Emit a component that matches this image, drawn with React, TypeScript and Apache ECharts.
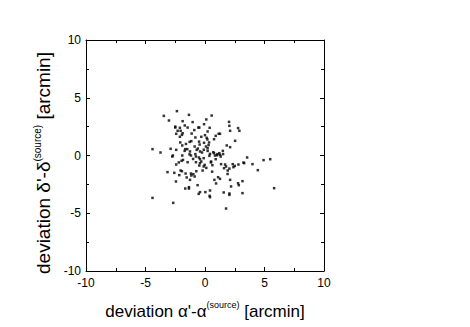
import React, { useEffect, useRef } from "react";
import * as echarts from "echarts";

const xTicks = [-10, -5, 0, 5, 10];
const yTicks = [-10, -5, 0, 5, 10];

const devAlpha = [
  -2.36, -3.46, -3.03, -1.35, 0.56, 0.11, -1.88, -1.04, 2.02, 2.05, -2.5, -2.5, -2.11, -1.46, -0.56, -0.48,
  -0.08, 0.39, 2.11, 2.78, 2.89, -2.3, -2.05, -1.88, -1.94, -2.42, -1.12, 0.22, -0.81, -0.31, 0.0, 0.14,
  0.2, 0.76, 1.15, 1.26, -2.11, 2.53, -1.29, -1.15, -2.08, -0.08, 0.34, -2.89, -4.41, -3.74, -2.42, -1.66,
  -1.49, -1.71, -1.26, -0.7, -0.42, -0.25, 0.22, 0.42, 0.7, 0.76, 1.04, 1.26, 1.32, 1.52, 1.83, 2.11,
  -0.87, -1.91, -0.45, 0.08, 0.22, -2.75, -1.91, -1.18, -0.81, -0.76, -0.51, -0.42, -0.11, 0.37, 0.84, 1.0,
  3.54, 4.92, 5.48, 5.81, 4.44, 3.99, 3.29, 3.23, 2.81, 2.33, 2.39, 2.05, 1.91, 1.77, 1.6, 1.69,
  1.35, 0.9, 0.51, -0.03, -0.11, -0.31, -0.42, -0.48, -0.76, -1.46, -1.85, -1.97, -2.42, -3.15, -2.58, -2.05,
  -1.94, -2.16, -1.63, -1.18, -0.98, -1.15, -0.87, -1.54, -1.26, -2.44, -0.73, 0.11, 0.62, 1.1, 0.79, 0.93,
  1.26, 2.11, 2.78, 2.84, 3.15, -1.66, -1.35, -1.35, -0.62, -0.42, -0.53, 0.03, 0.42, 0.39, 0.42, 1.57,
  2.05, 2.05, 2.19, 3.15, -4.41, -2.67, 1.77, -1.6, -0.6, 0.5, -1.0, 1.5, -0.2, 0.9, -1.7, 0.3,
  -2.2, -0.9, 1.9, -1.3, 0.6, -0.1, 2.5, -2.7, 1.2, -0.5
];

const devDelta = [
  3.84, 3.43, 3.03, 3.52, 3.46, 3.12, 2.97, 2.89, 2.91, 2.57, 2.5, 2.42, 2.4, 2.42, 2.42, 2.42,
  2.71, 2.4, 2.14, 2.37, 2.14, 2.14, 2.14, 1.93, 1.79, 1.88, 1.9, 2.08, 1.56, 1.62, 1.76, 1.53,
  1.39, 1.41, 1.88, 1.88, 1.62, 1.27, 1.18, 1.24, 1.13, 1.1, 1.13, 0.58, 0.55, 0.26, 0.49, 0.55,
  0.55, 0.4, 0.35, 0.49, 0.35, 0.26, 0.4, 0.14, 0.29, 0.2, 0.12, 0.06, -0.09, 0.12, 0.87, 0.72,
  0.78, 0.87, 0.95, 0.78, 0.63, -0.09, 0.0, 0.0, 0.12, -0.09, -0.17, -0.32, -0.23, -0.03, 0.0, 0.02,
  -0.17, -0.4, -0.32, -2.83, -1.27, -0.75, -0.66, -0.61, -0.78, -0.75, -1.01, -1.13, -1.3, -0.95, -1.1, -0.78,
  -0.75, -0.32, -0.52, -0.81, -0.95, -0.52, -0.66, -0.87, -0.58, -0.58, -0.38, -0.46, -0.78, -1.44, -1.5, -1.3,
  -1.36, -1.7, -1.56, -1.56, -1.62, -1.73, -1.82, -1.9, -2.11, -2.25, -1.36, -1.07, -0.84, -1.88, -2.11, -2.42,
  -2.02, -2.11, -2.4, -2.57, -2.22, -2.86, -2.86, -2.74, -2.57, -3.17, -3.32, -3.17, -3.03, -3.49, -3.61, -3.2,
  -3.29, -3.41, -2.68, -3.26, -3.67, -4.1, -4.59, 1.0, 0.6, -0.6, -0.3, 0.4, -1.3, 1.7, 2.6, 0.9,
  -0.6, 2.2, -1.6, 0.1, -1.4, 0.5, -0.9, 0.0, 0.2, 1.2
];

const FONT = "'Liberation Sans', Arial, sans-serif";

export default function App() {
  const ref = useRef<HTMLDivElement>(null);
  useEffect(() => {
    if (!ref.current) return;
    const chart = echarts.init(ref.current, undefined, { renderer: "svg" });
    const data = devAlpha.map((x, i) => [x, devDelta[i]]);
    const axisCommon = {
      type: "value" as const,
      min: -10,
      max: 10,
      interval: 5,
      axisLine: { show: true, onZero: false, lineStyle: { color: "#000", width: 1 } },
      axisTick: { show: true, inside: true, length: 4, lineStyle: { color: "#000" } },
      minorTick: { show: true, splitNumber: 2, length: 3, lineStyle: { color: "#000" } },
      splitLine: { show: false },
      minorSplitLine: { show: false },
    };
    const labelStyle = {
      color: "#000",
      fontSize: 12,
      fontFamily: FONT,
    };
    const xRich = {
      a: { fontSize: 17, fontFamily: FONT, color: "#000", lineHeight: 20, verticalAlign: "bottom" as const },
      s: { fontSize: 9, fontFamily: FONT, color: "#000", lineHeight: 20, verticalAlign: "top" as const },
    };
    const yRich = {
      a: { fontSize: 19, fontFamily: FONT, color: "#000", lineHeight: 20, verticalAlign: "bottom" as const },
      s: { fontSize: 10, fontFamily: FONT, color: "#000", lineHeight: 20, verticalAlign: "top" as const },
    };
    chart.setOption({
      animation: false,
      backgroundColor: "#fff",
      grid: { left: 86, right: 146, top: 40, bottom: 56, containLabel: false },
      xAxis: [
        {
          ...axisCommon,
          position: "bottom",
          axisLabel: {
            ...labelStyle,
            margin: 6,
            formatter: (v: number) => (xTicks.includes(v) ? String(v) : ""),
          },
          name: "{a|deviation α'-α}{s|(source)}{a| [arcmin]}",
          nameLocation: "middle",
          nameGap: 29,
          nameTextStyle: { rich: xRich },
        },
        {
          ...axisCommon,
          position: "top",
          axisLabel: { show: false },
        },
      ],
      yAxis: [
        {
          ...axisCommon,
          position: "left",
          axisLabel: {
            ...labelStyle,
            margin: 5,
            formatter: (v: number) => (yTicks.includes(v) ? String(v) : ""),
          },
          name: "{a|deviation δ'-δ}{s|(source)}{a| [arcmin]}",
          nameLocation: "middle",
          nameGap: 30,
          nameTextStyle: { rich: yRich, padding: [0, 15, 0, 0] },
        },
        {
          ...axisCommon,
          position: "right",
          axisLabel: { show: false },
        },
      ],
      series: [
        {
          type: "scatter",
          data,
          symbol: "rect",
          symbolSize: 2.5,
          itemStyle: { color: "#000" },
          xAxisIndex: 0,
          yAxisIndex: 0,
        },
      ],
    });
    return () => chart.dispose();
  }, []);
  return <div ref={ref} style={{ width: 470, height: 327, position: "absolute", left: 0, top: 0 }} />;
}
